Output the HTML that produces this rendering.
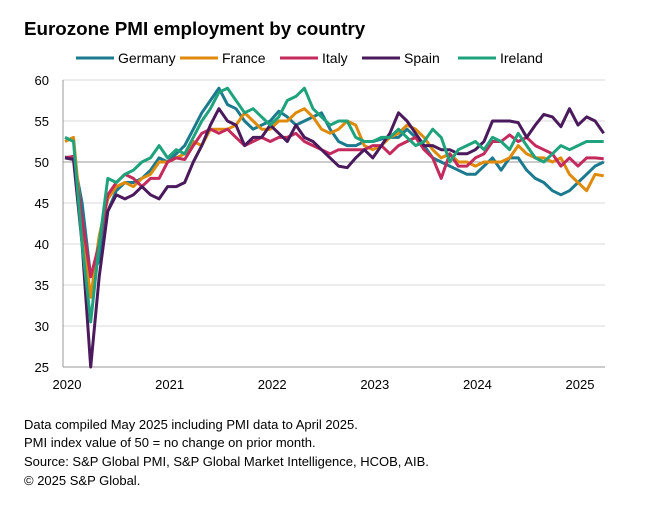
<!DOCTYPE html>
<html><head><meta charset="utf-8">
<style>
body{margin:0;background:#fff;width:653px;height:517px;overflow:hidden;font-family:"Liberation Sans",Arial,sans-serif;}
svg text{font-family:"Liberation Sans",Arial,sans-serif;}
</style></head>
<body>
<svg id="chart" width="653" height="517" xmlns="http://www.w3.org/2000/svg">
<text x="24" y="35" font-size="18.8" font-weight="bold" fill="#000">Eurozone PMI employment by country</text>
<g id="legend"></g>
<g id="grid"></g>
<g id="series"></g>
<g id="axes"></g>
<g font-size="13" fill="#000">
<text x="24" y="429">Data compiled May 2025 including PMI data to April 2025.</text>
<text x="24" y="447">PMI index value of 50 = no change on prior month.</text>
<text x="24" y="466">Source: S&amp;P Global PMI, S&amp;P Global Market Intelligence, HCOB, AIB.</text>
<text x="24" y="485">© 2025 S&amp;P Global.</text>
</g>
</svg>
<script>
const seriesNames=["Germany","France","Italy","Spain","Ireland"];
const seriesColors=["#1b7a8e","#e08a0c","#c42a5c","#4a1a5c","#1fa37c"];
const germany=[50.6,50.5,45,36,38,44,46.5,47.5,47.5,48,49,50.5, 50,51,52,54,56,57.5,59,57,56.5,55,54,54.5, 55,56.2,55.5,54.5,55,55.5,56,54,52.5,52,52,52.5, 52.5,52.8,53,53,54,53,52,50.5,50,49.5,49,48.5, 48.5,49.5,50.5,49,50.5,50.5,49,48,47.5,46.5,46,46.5, 47.5,48.5,49.5,50];
const france=[52.5,53,42,33.5,41,45.5,47,47.5,47,48,48.5,50, 50,50.5,51,52.5,52,54,54,54,54.5,56,55,54, 54,55,55,56,56.5,55.5,54,53.5,54,55,54.5,52, 51.5,52,53,53.5,54.5,54,53,51.5,50.5,51,50,50, 49.5,50,50,50,50.5,52,51,50.5,50.5,50,50.5,48.5, 47.5,46.5,48.5,48.3];
const italy=[50.5,50.7,43,36,40,46,47.5,48.5,48,47,48,48, 50,50.5,50.3,52,53.5,54,53.5,54,53,52,52.5,53, 52.5,53,53,53.5,52.5,52,51.5,51,51.5,51.5,51.5,51.5, 52,52,51,52,52.5,53,51.5,50.5,48,51,49.5,49.5, 50.5,51,52.5,52.5,53.3,52.5,53,52,51.5,51,49.5,50.5, 49.5,50.5,50.5,50.4];
const spain=[50.5,50.3,40,25,36,44,46,45.5,46,47,46,45.5, 47,47,47.5,50,52,54.5,56.5,55,54.5,52,53,53, 54.5,53.5,52.5,54.5,53,52.5,51.5,50.5,49.5,49.3,50.5,51.5, 50.5,52,53.5,56,55,53.5,52,52,51.5,51.5,51,51, 51.5,52.5,55,55,55,54.8,53,54.5,55.8,55.5,54.3,56.5, 54.5,55.5,55,53.5];
const ireland=[53,52.5,40,30.5,40,48,47.5,48.5,49,50,50.5,52, 50.5,51.5,51,53,55,56.5,58.5,59,57.5,56,56.5,55.5, 54.5,55.5,57.5,58,59,56.5,55.5,54.5,55,55,53,52.5, 52.5,53,53,54,53,52,52.5,54,53,50,51.5,52, 52.5,51.5,53,52.5,51.5,53.5,52,50.5,50,51,52,51.5, 52,52.5,52.5,52.5];
const yTicks=[25,30,35,40,45,50,55,60];
const xTickLabels=["2020","2021","2022","2023","2024","2025"];

const NS="http://www.w3.org/2000/svg";
const X0=65,DX=8.55,Y60=80,PPU=8.2,PL=63,PR=605;
function xs(i){return X0+i*DX;}
function ys(v){return Y60+(60-v)*PPU;}
function mk(tag,attrs,parent){const e=document.createElementNS(NS,tag);for(const k in attrs)e.setAttribute(k,attrs[k]);parent.appendChild(e);return e;}
const grid=document.getElementById('grid'),axes=document.getElementById('axes'),ser=document.getElementById('series'),leg=document.getElementById('legend');
yTicks.forEach(t=>{
  const l=mk('line',{x1:PL,x2:PR,y1:ys(t),y2:ys(t),stroke:t===50?'#999':(t===25?'#999':'#d9d9d9'),'stroke-width':1},grid);
  
  
  const tx=mk('text',{x:49,y:ys(t)+5,'text-anchor':'end','font-size':13,fill:'#000'},axes);
  tx.textContent=t;
  
  
});
const ax=mk('line',{x1:PL,x2:PL,y1:ys(60),y2:ys(25),stroke:'#999','stroke-width':1},axes);


xTickLabels.forEach((lab,k)=>{
  const tx=mk('text',{x:xs(k*12)+2,y:389,'text-anchor':'middle','font-size':13,fill:'#000'},axes);
  tx.textContent=lab;
  
  
});
[germany,france,italy,spain,ireland].forEach((d,s)=>{
  const p=mk('polyline',{points:d.map((v,i)=>xs(i).toFixed(1)+','+ys(v).toFixed(1)).join(' '),fill:'none',stroke:seriesColors[s],'stroke-width':3,'stroke-linejoin':'round'},ser);
  
  
});
const legX=[76,180,280,362,458];
seriesNames.forEach((n,s)=>{
  const g=mk('g',{},leg);
  
  
  mk('line',{x1:legX[s],x2:legX[s]+38,y1:58,y2:58,stroke:seriesColors[s],'stroke-width':3},g);
  const t=mk('text',{x:legX[s]+42,y:63,'font-size':14,fill:'#000'},g);
  t.textContent=n;
});
</script>
</body></html>
